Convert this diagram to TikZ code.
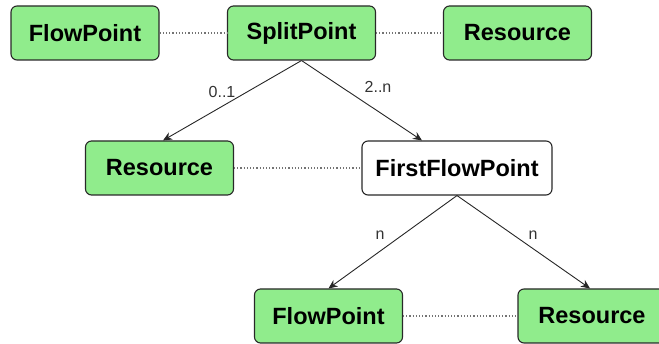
\documentclass[tikz,border=0pt]{standalone}
\usepackage{fontspec}
\setmainfont{Liberation Sans}
\usetikzlibrary{arrows.meta}
\definecolor{boxgreen}{RGB}{144,236,140}
\definecolor{boxline}{RGB}{40,40,40}
\tikzset{
  entity/.style={draw=boxline, line width=1.1pt, rounded corners=6pt, fill=boxgreen,
    minimum width=148pt, minimum height=54pt, inner sep=0pt, font=\fontsize{23.5}{26}\selectfont\bfseries},
  plain/.style={entity, fill=white},
  link/.style={draw=black!55, line width=1.2pt, dotted},
  rel/.style={draw=black!85, line width=0.9pt, -{Stealth[length=9pt,width=8pt]}},
  card/.style={font=\fontsize{16}{18}\selectfont, text=black!80}
}

\begin{document}
\begin{tikzpicture}[x=1pt,y=-1pt]
          \clip (0,0) rectangle (659,344);
          % top row
          \node[entity] (fp) at (85,33) {FlowPoint};
          \node[entity] (split) at (301.5,33) {SplitPoint};
          \node[entity] (res) at (517.5,33) {Resource};
          % middle row
          \node[entity] (splitres) at (159.5,168) {Resource};
          \node[plain, minimum width=190pt] (first) at (457,168) {FirstFlowPoint};
          % bottom row
          \node[entity] (nextfp) at (328.5,316) {FlowPoint};
          \node[entity] (nextres) at (592,316) {Resource};
          \draw[link] (fp) -- (split);
          \draw[link] (split) -- (res);
          \draw[link] (splitres) -- (first);
          \draw[link] (nextfp) -- (nextres);
          \draw[rel] (split.south) -- ([xshift=3.5pt]splitres.north);
          \draw[rel] (split.south) -- ([xshift=-35pt]first.north);
          \draw[rel] (first.south) -- (nextfp.north);
          \draw[rel] (first.south) -- ([xshift=-2pt]nextres.north);
          \node[card] (l1) at (222,92) {0..1};
          \node[card] (l2) at (378,87) {2..n};
          \node[card] (l3) at (380,235) {n};
          \node[card] (l4) at (533,235) {n};
        \end{tikzpicture}
\end{document}
